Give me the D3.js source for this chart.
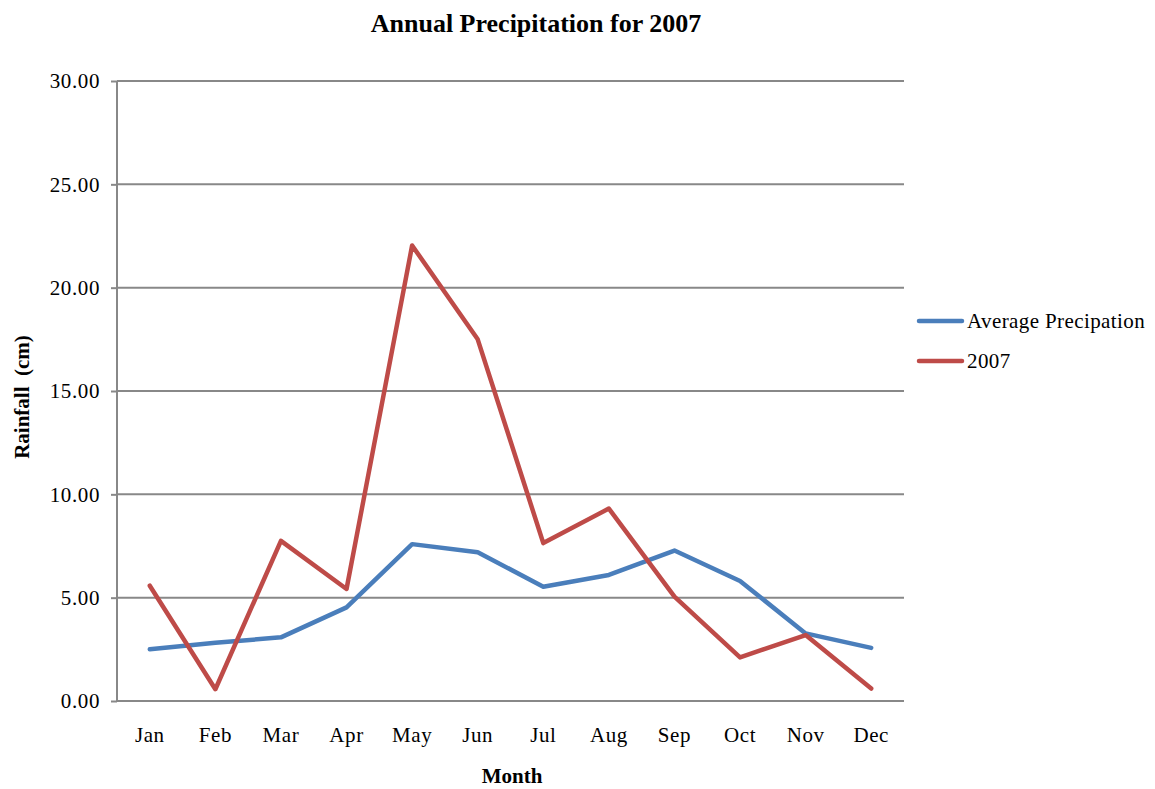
<!DOCTYPE html>
<html>
<head>
<meta charset="utf-8">
<script src="https://cdn.jsdelivr.net/npm/d3@7"></script>
<style>
  html, body { margin: 0; padding: 0; background: #fff; }
  text { font-family: "Liberation Serif", "Times New Roman", serif; fill: #000; }
</style>
</head>
<body>
<svg id="chart" width="1155" height="789"></svg>
<script>
// Monthly rainfall (cm)
const months = ["Jan", "Feb", "Mar", "Apr", "May", "Jun", "Jul", "Aug", "Sep", "Oct", "Nov", "Dec"];
const averagePrecip = [2.50, 2.82, 3.08, 4.53, 7.59, 7.20, 5.53, 6.10, 7.28, 5.81, 3.27, 2.57];
const precip2007 = [5.58, 0.57, 7.75, 5.42, 22.04, 17.50, 7.64, 9.31, 5.05, 2.11, 3.19, 0.60];
const yTicks = [0, 5, 10, 15, 20, 25, 30];
const seriesNames = ["Average Precipation", "2007"];
const seriesColors = ["#4a7ebb", "#be4b48"];

const svg = d3.select("#chart");
const plotLeft = 117, plotRight = 904, plotTop = 81, plotBottom = 701;
const labelSize = 21;

const x = d3.scaleBand().domain(months).range([plotLeft, plotRight]);
const y = d3.scaleLinear().domain([0, 30]).range([plotBottom, plotTop]);

// horizontal gridlines
svg.append("g")
  .selectAll("line")
  .data(yTicks.filter(d => d > 0))
  .join("line")
  .attr("x1", plotLeft).attr("x2", plotRight)
  .attr("y1", d => y(d)).attr("y2", d => y(d))
  .attr("stroke", "#888").attr("stroke-width", 2);

// y axis
const yAxis = svg.append("g")
  .attr("transform", `translate(${plotLeft},0)`)
  .call(d3.axisLeft(y).tickValues(yTicks).tickFormat(d3.format(".2f")).tickSize(6).tickPadding(11));
yAxis.select(".domain").attr("stroke", "#888").attr("stroke-width", 2).attr("d", `M0,${plotTop}V${plotBottom}`);
yAxis.selectAll(".tick line").attr("stroke", "#888").attr("stroke-width", 2);
yAxis.selectAll(".tick text")
  .attr("font-size", labelSize).attr("font-family", "Liberation Serif")
  .attr("letter-spacing", 0.6).attr("fill", "#000");

// x axis
const xAxis = svg.append("g")
  .attr("transform", `translate(0,${plotBottom})`)
  .call(d3.axisBottom(x).tickSize(0).tickPadding(26));
xAxis.select(".domain").attr("stroke", "#888").attr("stroke-width", 2).attr("d", `M${plotLeft},0H${plotRight}`);
xAxis.selectAll(".tick text")
  .attr("font-size", labelSize).attr("font-family", "Liberation Serif")
  .attr("letter-spacing", 0.6).attr("fill", "#000");

// series lines
const line = d3.line()
  .x((d, i) => x(months[i]) + x.bandwidth() / 2)
  .y(d => y(d));

[averagePrecip, precip2007].forEach((vals, k) => {
  svg.append("path")
    .datum(vals)
    .attr("d", line)
    .attr("fill", "none")
    .attr("stroke", seriesColors[k])
    .attr("stroke-width", 4.5)
    .attr("stroke-linejoin", "round")
    .attr("stroke-linecap", "round");
});

// title
svg.append("text")
  .attr("x", 536).attr("y", 32)
  .attr("text-anchor", "middle")
  .attr("font-size", 26).attr("font-weight", "bold")
  .text("Annual Precipitation for 2007");

// axis titles
svg.append("text")
  .attr("x", 512).attr("y", 783)
  .attr("text-anchor", "middle")
  .attr("font-size", labelSize).attr("font-weight", "bold")
  .text("Month");

svg.append("text")
  .attr("transform", "translate(29,397) rotate(-90)")
  .attr("text-anchor", "middle")
  .attr("font-size", labelSize).attr("font-weight", "bold")
  .attr("xml:space", "preserve")
  .style("white-space", "pre")
  .text("Rainfall  (cm)");

// legend
const legend = svg.append("g");
seriesNames.forEach((name, k) => {
  const ly = 321 + k * 40;
  legend.append("line")
    .attr("x1", 919).attr("x2", 962)
    .attr("y1", ly).attr("y2", ly)
    .attr("stroke", seriesColors[k]).attr("stroke-width", 4.5)
    .attr("stroke-linecap", "round");
  legend.append("text")
    .attr("x", 967).attr("y", ly + 7)
    .attr("font-size", labelSize)
    .attr("letter-spacing", 0.4)
    .text(name);
});
</script>
</body>
</html>
